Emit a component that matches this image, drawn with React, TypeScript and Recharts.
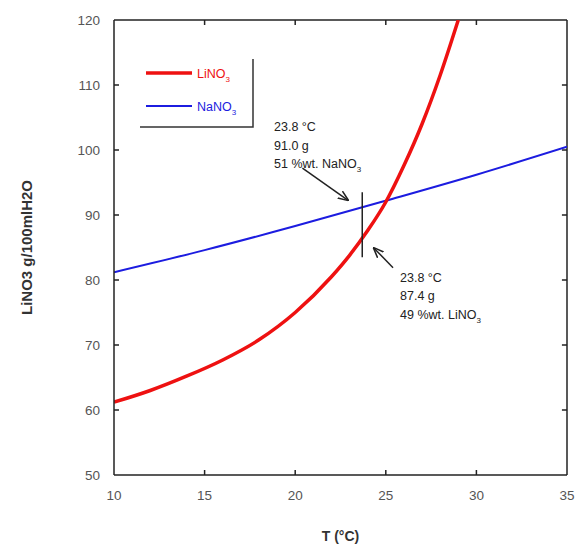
import React from "react";
import {
  LineChart,
  Line,
  XAxis,
  YAxis,
  ReferenceLine,
  Customized,
} from "recharts";

// temperature (°C) -> solubility (g / 100 ml H2O)
const liTemps = [10, 12, 14, 16, 18, 20, 22, 23, 24, 25, 26, 27, 28, 29];
const liValues = [61.2, 63, 65.2, 67.7, 70.8, 75, 80.5, 83.8, 87.6, 92, 97.6, 104, 111.5, 120];

const naTemps = [10, 15, 20, 25, 30, 35];
const naValues = [81.2, 84.6, 88.3, 92.2, 96.2, 100.5];

const xTicks = [10, 15, 20, 25, 30, 35];
const yTicks = [50, 60, 70, 80, 90, 100, 110, 120];

const liData = liTemps.map((t, i) => ({ t, v: liValues[i] }));
const naData = naTemps.map((t, i) => ({ t, v: naValues[i] }));

const RED = "#ee1111";
const BLUE = "#1c1ce0";
const INK = "#222";
const FONT = "Arial, 'Liberation Sans', sans-serif";

const Overlay = () => (
  <g fontFamily={FONT}>
    <defs>
      <marker id="arrow" viewBox="0 0 10 10" refX="9" refY="5" markerWidth="7" markerHeight="7" orient="auto">
        <path d="M0,1 L10,5 L0,9" fill="none" stroke={INK} strokeWidth={1.5} />
      </marker>
    </defs>
    {/* legend */}
    <line x1={146} y1={73} x2={192} y2={73} stroke={RED} strokeWidth={3.5} />
    <text x={197} y={78} fill={RED} fontSize={12.5}>
      LiNO<tspan dy={4} fontSize={8}>3</tspan>
    </text>
    <line x1={146} y1={106} x2={192} y2={106} stroke={BLUE} strokeWidth={2} />
    <text x={197} y={111} fill={BLUE} fontSize={12.5}>
      NaNO<tspan dy={4} fontSize={8}>3</tspan>
    </text>
    <polyline points="140,127 253,127 253,59" fill="none" stroke="#333" strokeWidth={1.5} />
    {/* notes */}
    <g fill={INK} fontSize={12.5}>
      <text x={274} y={131}>23.8 °C</text>
      <text x={274} y={150}>91.0 g</text>
      <text x={274} y={168}>
        51 %wt. NaNO<tspan dy={4} fontSize={8}>3</tspan>
      </text>
      <text x={400} y={282}>23.8 °C</text>
      <text x={400} y={300}>87.4 g</text>
      <text x={400} y={319}>
        49 %wt. LiNO<tspan dy={4} fontSize={8}>3</tspan>
      </text>
    </g>
  </g>
);

// tick label plus an inward tick mark
const BottomTick = (props: any) => {
  const { x, y, payload } = props;
  return (
    <g>
      {payload.value !== 10 && payload.value !== 35 && (
        <line x1={x} y1={y} x2={x} y2={y - 5} stroke={INK} strokeWidth={1.5} />
      )}
      <text x={x} y={y + 25} textAnchor="middle" fill="#555" fontSize={13.5} fontFamily={FONT}>
        {payload.value}
      </text>
    </g>
  );
};

const LeftTick = (props: any) => {
  const { x, y, payload } = props;
  return (
    <g>
      {payload.value !== 50 && payload.value !== 120 && (
        <line x1={x} y1={y} x2={x + 5} y2={y} stroke={INK} strokeWidth={1.5} />
      )}
      <text x={x - 14} y={y + 5} textAnchor="end" fill="#555" fontSize={13.5} fontFamily={FONT}>
        {payload.value}
      </text>
    </g>
  );
};

const innerX = xTicks.slice(1, -1);
const innerY = yTicks.slice(1, -1);

export default function App() {
  return (
    <div style={{ position: "absolute", left: 0, top: 0, background: "#fff" }}>
      <LineChart width={575} height={545} margin={{ top: 20, right: 8, bottom: 0, left: 22 }}>
        <Customized component={Overlay} />
        <XAxis
          dataKey="t"
          type="number"
          domain={[10, 35]}
          ticks={xTicks}
          allowDataOverflow
          height={70}
          tickSize={0}
          tickMargin={0}
          tickLine={false}
          tick={BottomTick}
          axisLine={{ stroke: INK, strokeWidth: 1.5 }}
          label={{
            value: "T (°C)",
            position: "insideBottom",
            offset: 4,
            style: { fill: "#333", fontSize: 14, fontWeight: "bold", fontFamily: FONT },
          }}
        />
        <YAxis
          type="number"
          domain={[50, 120]}
          ticks={yTicks}
          allowDataOverflow
          width={92}
          tickSize={0}
          tickMargin={0}
          tickLine={false}
          tick={LeftTick}
          axisLine={{ stroke: INK, strokeWidth: 1.5 }}
          label={{
            value: "LiNO3 g/100mlH2O",
            angle: -90,
            position: "insideLeft",
            offset: 5,
            style: { textAnchor: "middle", fill: "#333", fontSize: 15, fontWeight: "bold", fontFamily: FONT },
          }}
        />
        {/* box frame: top and right edges with inward ticks */}
        <ReferenceLine y={120} stroke={INK} strokeWidth={1.5} ifOverflow="extendDomain" />
        <ReferenceLine x={35} stroke={INK} strokeWidth={1.5} ifOverflow="extendDomain" />
        {innerX.map((t) => (
          <ReferenceLine key={"tx" + t} segment={[{ x: t, y: 120 }, { x: t, y: 119.23 }]} stroke={INK} strokeWidth={1.5} />
        ))}
        {innerY.map((v) => (
          <ReferenceLine key={"ry" + v} segment={[{ x: 35, y: v }, { x: 34.72, y: v }]} stroke={INK} strokeWidth={1.5} />
        ))}
        <Line
          data={naData}
          dataKey="v"
          type="monotone"
          stroke={BLUE}
          strokeWidth={2}
          dot={false}
          isAnimationActive={false}
        />
        <Line
          data={liData}
          dataKey="v"
          type="monotone"
          stroke={RED}
          strokeWidth={3.5}
          dot={false}
          isAnimationActive={false}
        />
        <ReferenceLine segment={[{ x: 23.7, y: 93.5 }, { x: 23.7, y: 83.5 }]} stroke={INK} strokeWidth={1.5} />
        <ReferenceLine
          segment={[{ x: 20.4, y: 97.2 }, { x: 22.9, y: 92.3 }]}
          stroke={INK}
          strokeWidth={1.5}
          markerEnd="url(#arrow)"
        />
        <ReferenceLine
          segment={[{ x: 25.4, y: 81.9 }, { x: 24.35, y: 84.9 }]}
          stroke={INK}
          strokeWidth={1.5}
          markerEnd="url(#arrow)"
        />
      </LineChart>
    </div>
  );
}
